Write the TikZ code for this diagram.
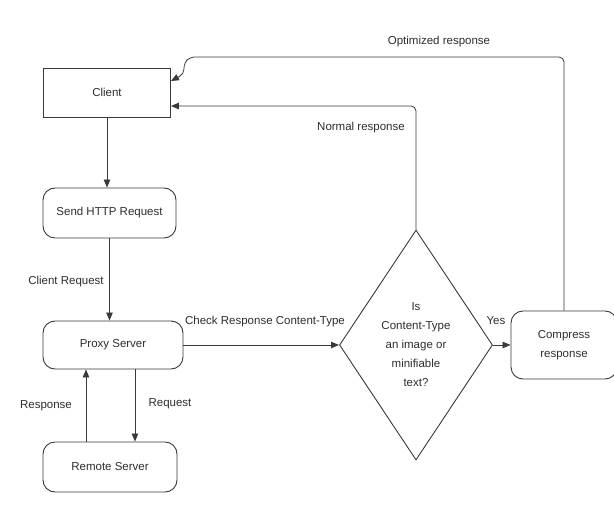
\documentclass[tikz,border=0pt]{standalone}
\usepackage{fontspec}
\setmainfont{Liberation Sans}
\usetikzlibrary{shapes.geometric,arrows.meta}
\definecolor{ln}{HTML}{3A3A3A}
\definecolor{tx}{HTML}{2E2E2E}
\newcommand\dgfont{\fontsize{11.5}{19}\selectfont}
\begin{document}
\begin{tikzpicture}[x=1pt,y=-1pt,
  sq/.style={draw=ln, line width=0.9pt, rectangle, inner sep=0pt, font=\dgfont, text=tx},
  rnd/.style={sq, rounded corners=12pt},
  conn/.style={draw=ln, line width=0.8pt, -{Triangle[length=8pt,width=6.5pt]}},
  lbl/.style={font=\dgfont, text=tx, inner sep=0pt}]
\useasboundingbox (0,0) rectangle (614,524);
\fill[white] (0,0) rectangle (614,524);

\node[sq, minimum width=127, minimum height=49] (client) at (107,92.5) {Client};
\node[rnd, minimum width=133, minimum height=50] (send) at (109.5,213) {Send HTTP Request};
\node[rnd, minimum width=140, minimum height=48] (proxy) at (113,345) {Proxy Server};
\node[rnd, minimum width=134, minimum height=50] (remote) at (110,467) {Remote Server};
\node[diamond, draw=ln, line width=0.9pt, inner sep=0pt, minimum width=136, minimum height=230,
      align=center, font=\dgfont, text=tx] (dec) at (416,345) {Is\\Content-Type\\an image or\\minifiable\\text?};
\node[rnd, minimum width=106, minimum height=68, align=center] (comp) at (564,345) {Compress\\response};

\draw[conn] (client.south) -- (client.south |- send.north);
\draw[conn] (send.south) -- (send.south |- proxy.north);
\draw[conn] ([xshift=22pt]proxy.south) -- ([xshift=22pt]proxy.south |- remote.north);
\draw[conn] ([xshift=-27pt]proxy.south |- remote.north) -- ([xshift=-27pt]proxy.south);
\draw[conn] (proxy.east) -- (dec.west);
\draw[conn] (dec.east) -- (comp.west);
\draw[conn, rounded corners=5pt] (dec.north) |- ([yshift=-13.5pt]client.east);
\draw[conn, rounded corners=5pt] (comp.north) |- (190,57) -- (184,63) -- (184,74) -- ([yshift=11.5pt]client.east);

\node[lbl] (lcr) at (66,282) {Client Request};
\node[lbl] (lresp) at (46,406) {Response};
\node[lbl] (lreq) at (170,404) {Request};
\node[lbl] (lcheck) at (265,322) {Check Response Content-Type};
\node[lbl] (lyes) at (496,321) {Yes};
\node[lbl] (lopt) at (439,42) {Optimized response};
\node[lbl] (lnorm) at (361,128) {Normal response};
\end{tikzpicture}
\end{document}
